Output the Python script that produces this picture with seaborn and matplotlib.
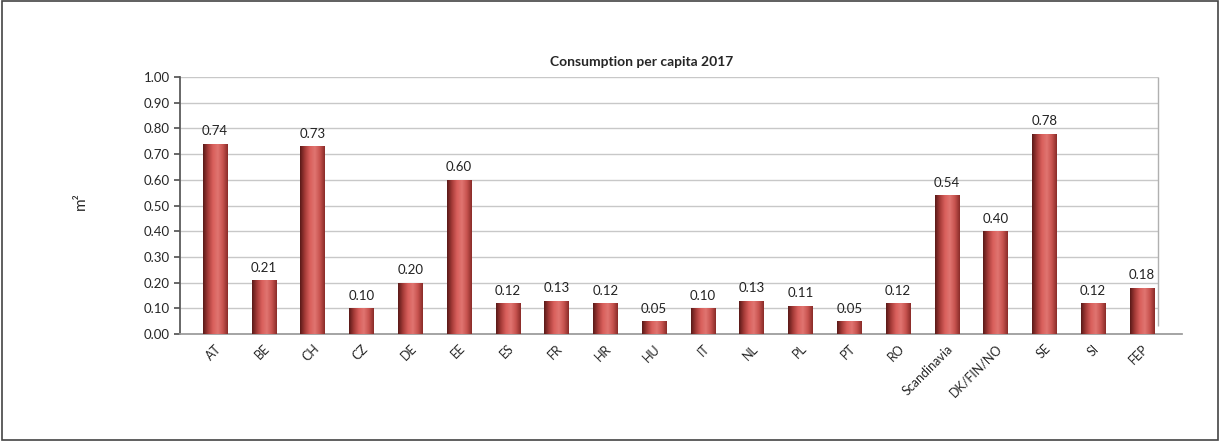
import numpy as np
import pandas as pd
import matplotlib
matplotlib.use("Agg")
import matplotlib.pyplot as plt
import seaborn as sns
from matplotlib.patches import Rectangle

categories = ["AT", "BE", "CH", "CZ", "DE", "EE", "ES", "FR", "HR", "HU", "IT", "NL",
              "PL", "PT", "RO", "Scandinavia", "DK/FIN/NO", "SE", "SI", "FEP"]
values = [0.74, 0.21, 0.73, 0.10, 0.20, 0.60, 0.12, 0.13, 0.12, 0.05, 0.10, 0.13,
          0.11, 0.05, 0.12, 0.54, 0.40, 0.78, 0.12, 0.18]
yticks = [0.0, 0.1, 0.2, 0.3, 0.4, 0.5, 0.6, 0.7, 0.8, 0.9, 1.0]

sns.set_theme(style="white")
plt.rcParams["font.family"] = ["Lato", "DejaVu Sans"]

df = pd.DataFrame({"country": categories, "value": values})

fig = plt.figure(figsize=(12.2, 4.41), dpi=100)
ax = fig.add_axes([0.1475, 0.2426, 0.8213, 0.5828])

sns.barplot(data=df, x="country", y="value", color="#C0504D", width=0.5,
            saturation=1, ax=ax, zorder=3)

# cylinder-like horizontal shading on each bar
cmap = matplotlib.colors.LinearSegmentedColormap.from_list(
    "cyl", ["#5a1a18", "#a83c39", "#d9605c", "#e07470", "#c85450", "#8a2c29"])
grad = np.linspace(0, 1, 64).reshape(1, -1)
for p in ax.patches:
    x0, y0 = p.get_x(), p.get_y()
    w, h = p.get_width(), p.get_height()
    im = ax.imshow(grad, cmap=cmap, aspect="auto", extent=[x0, x0 + w, y0, y0 + h],
                   zorder=4)
    im.set_clip_path(p)
    p.set_edgecolor("none")

for i, v in enumerate(values):
    ax.text(i, v + 0.025, f"{v:.2f}", ha="center", va="bottom", fontsize=9.5,
            color="#222222", zorder=5)

ax.set_xlim(-0.72, 19.82)
ax.set_ylim(0, 1.0)
wall_x = 19.32
ax.hlines(yticks[1:], -0.72, wall_x, colors="#c8c8c8", linewidth=1, zorder=1)
ax.vlines(wall_x, 0.03, 1.0, colors="#b0b0b0", linewidth=1, zorder=1)
ax.set_yticks(yticks)
ax.set_yticklabels([f"{t:.2f}" for t in yticks], fontsize=9.5)
ax.set_xticks(range(len(categories)))
ax.set_xticklabels(categories, rotation=45, ha="right", rotation_mode="anchor", fontsize=9)
ax.tick_params(axis="x", pad=6, length=0)
ax.tick_params(axis="y", length=4, color="#555555", left=True)
for s in ["top", "right"]:
    ax.spines[s].set_visible(False)
ax.spines["left"].set_color("#555555")
ax.spines["bottom"].set_color("#999999")
ax.set_xlabel("")
ax.set_ylabel("")

fig.text(0.066, 0.545, "m²", rotation=90, ha="center", va="center", fontsize=11)
fig.text(0.526, 0.86, "Consumption per capita 2017", ha="center", va="center",
         fontsize=10, fontweight="bold")

fig.patches.append(Rectangle((0.0015, 0.003), 0.997, 0.995, transform=fig.transFigure,
                             fill=False, edgecolor="#444444", linewidth=1.2))

fig.savefig("out.png", dpi=100)
